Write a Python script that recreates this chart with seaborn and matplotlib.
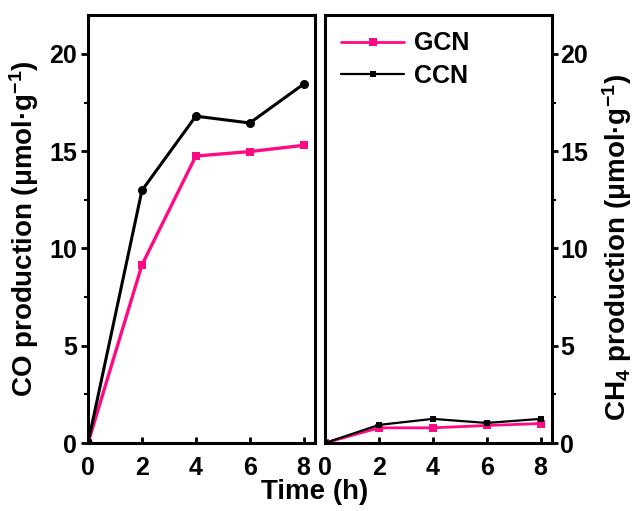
import matplotlib
matplotlib.use("Agg")
import matplotlib.pyplot as plt
import seaborn as sns
import pandas as pd
from matplotlib.ticker import MultipleLocator

time_h = [0, 2, 4, 6, 8]
co_gcn = [0, 9.15, 14.75, 14.98, 15.3]
co_ccn = [0, 12.98, 16.8, 16.45, 18.45]
ch4_gcn = [0, 0.78, 0.78, 0.9, 1.0]
ch4_ccn = [0, 0.93, 1.24, 1.03, 1.24]
series_names = ["GCN", "CCN"]
pink = "#FF0A85"

sns.set_theme(style="white")
plt.rcParams['font.family'] = ['Liberation Sans', 'DejaVu Sans']
plt.rcParams['font.weight'] = 'bold'
plt.rcParams['text.color'] = 'black'
plt.rcParams['axes.labelcolor'] = 'black'
plt.rcParams['xtick.color'] = 'black'
plt.rcParams['ytick.color'] = 'black'
plt.rcParams['mathtext.fontset'] = 'custom'
plt.rcParams['mathtext.rm'] = 'Liberation Sans:bold'
plt.rcParams['mathtext.it'] = 'Liberation Sans:bold'
plt.rcParams['mathtext.bf'] = 'Liberation Sans:bold'
plt.rcParams['mathtext.default'] = 'rm'

fig = plt.figure(figsize=(6.35, 5.11), dpi=100)
ax1 = fig.add_axes([88/635, 68/511, 227/635, 428/511])
ax2 = fig.add_axes([325/635, 68/511, 227/635, 428/511])

co = pd.DataFrame({"t": time_h, "GCN": co_gcn, "CCN": co_ccn})
ch4 = pd.DataFrame({"t": time_h, "GCN": ch4_gcn, "CCN": ch4_ccn})

# left panel
sns.lineplot(data=co, x="t", y="GCN", ax=ax1, color=pink, marker="s",
             markersize=6, markeredgewidth=0, linewidth=2.4)
sns.lineplot(data=co, x="t", y="CCN", ax=ax1, color="black", marker="o",
             markersize=6.5, markeredgewidth=0, linewidth=2.2)
# right panel
sns.lineplot(data=ch4, x="t", y="GCN", ax=ax2, color=pink, marker="s",
             markersize=6, markeredgewidth=0, linewidth=2.0, label=series_names[0])
sns.lineplot(data=ch4, x="t", y="CCN", ax=ax2, color="black", marker="s",
             markersize=4.5, markeredgewidth=0, linewidth=1.6, label=series_names[1])

for ax in (ax1, ax2):
    ax.set_xlim(0, 8.42)
    ax.set_ylim(0, 22)
    ax.set_xticks(time_h)
    ax.yaxis.set_major_locator(MultipleLocator(5))
    ax.yaxis.set_minor_locator(MultipleLocator(2.5))
    ax.set_xlabel("")
    for s in ax.spines.values():
        s.set_linewidth(2.2)
        s.set_color("black")
        s.set_visible(True)
    ax.tick_params(axis='x', which='major', direction='in', length=4, width=2,
                   labelsize=18, pad=9, bottom=True, top=False)

ax1.tick_params(axis='y', which='major', direction='out', length=5, width=2,
                labelsize=18, pad=3, left=True)
ax1.tick_params(axis='y', which='minor', direction='out', length=3, width=1.5, left=True)
ax1.set_ylabel("CO production (μmol·g$^{-1}$)", fontsize=20, fontweight='bold')
ax1.yaxis.set_label_coords((41 - 88)/227, 0.5)

ax2.yaxis.tick_right()
ax2.yaxis.set_label_position('right')
ax2.tick_params(axis='y', which='major', direction='out', length=4, width=2,
                labelsize=18, pad=2, left=False, right=True)
ax2.tick_params(axis='y', which='minor', direction='out', length=3, width=1.5,
                left=False, right=True)
ax2.set_ylabel("CH$_4$ production (μmol·g$^{-1}$)", fontsize=20, fontweight='bold')
ax2.yaxis.set_label_coords((600 - 325)/227, (443 - 248)/428)

for lab in ax1.get_xticklabels() + ax1.get_yticklabels() + ax2.get_xticklabels() + ax2.get_yticklabels():
    lab.set_fontweight('bold')

leg = ax2.legend(loc='upper left', frameon=False, handlelength=2.5,
                 borderaxespad=0.25, handletextpad=0.4, labelspacing=0.35,
                 prop={'weight': 'bold', 'size': 18})

fig.text(315/635, 1 - 492/511, "Time (h)", ha='center', va='center',
         fontsize=20, fontweight='bold')

fig.savefig("out.png", dpi=100)
